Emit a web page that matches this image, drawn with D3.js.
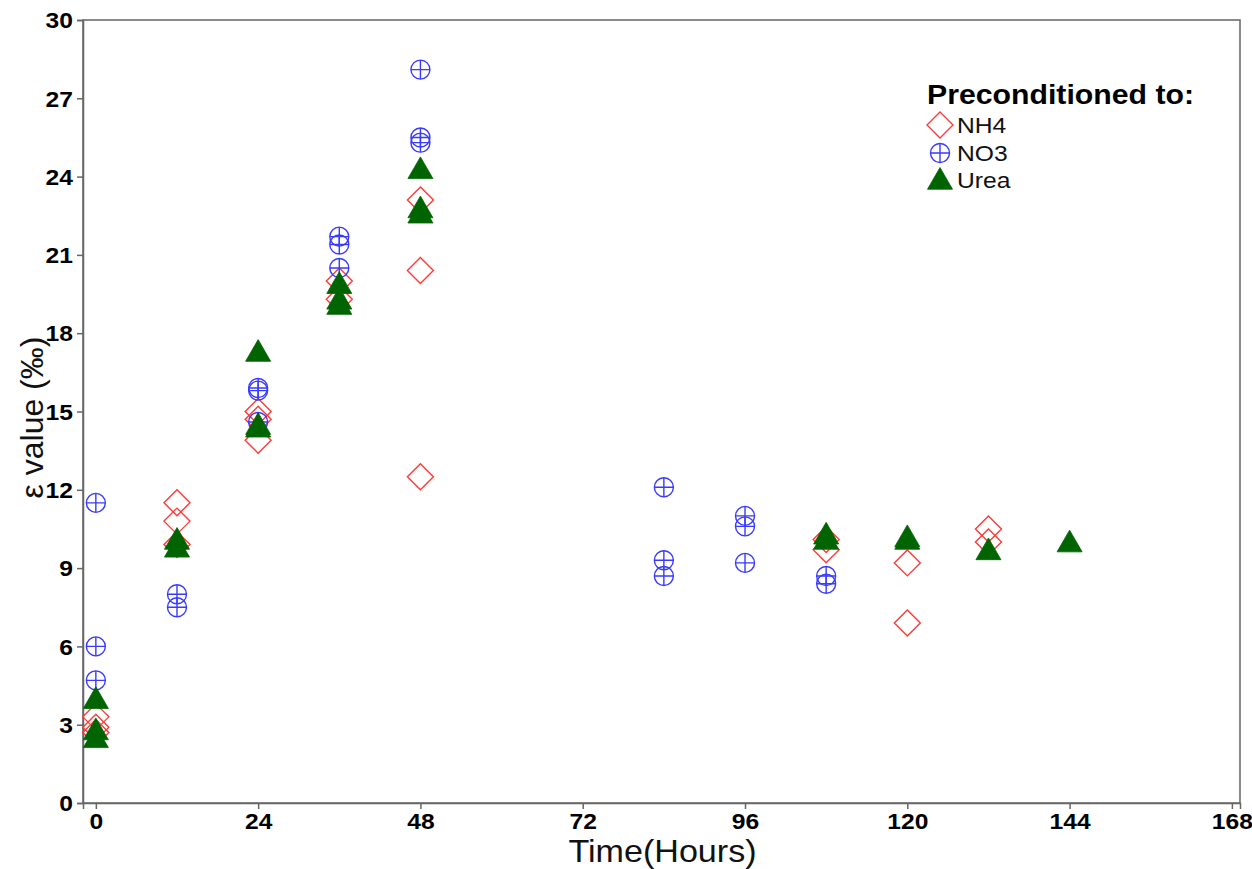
<!DOCTYPE html>
<html>
<head>
<meta charset="utf-8">
<script src="https://cdn.jsdelivr.net/npm/d3@7"></script>
<style>
  html, body { margin: 0; padding: 0; background: #fff; }
  text { font-family: "Liberation Sans", Arial, sans-serif; }
</style>
</head>
<body>
<svg id="chart" width="1252" height="869"></svg>
<script>
// ---- data ----
const xTicks = [0, 24, 48, 72, 96, 120, 144, 168];
const yTicks = [0, 3, 6, 9, 12, 15, 18, 21, 24, 27, 30];
const seriesNames = ["NH4", "NO3", "Urea"];

const nh4Hours  = [0, 0, 0, 12, 12, 12, 24, 24, 24, 36, 36, 48, 48, 48, 108, 108, 120, 120, 132, 132];
const nh4Values = [3.3, 2.9, 2.7, 11.5, 10.8, 9.9, 15.0, 14.7, 13.9, 20.0, 19.3, 23.1, 20.4, 12.5, 10.1, 9.7, 9.2, 6.9, 10.5, 10.0];

const no3Hours  = [0, 0, 0, 12, 12, 24, 24, 24, 36, 36, 36, 48, 48, 48, 84, 84, 84, 96, 96, 96, 108, 108];
const no3Values = [11.5, 6.0, 4.7, 8.0, 7.5, 15.9, 15.8, 14.6, 21.7, 21.4, 20.5, 28.1, 25.5, 25.3, 12.1, 9.3, 8.7, 11.0, 10.6, 9.2, 8.7, 8.4];

const ureaHours  = [0, 0, 0, 12, 12, 24, 24, 24, 36, 36, 36, 48, 48, 48, 108, 108, 120, 120, 132, 144];
const ureaValues = [3.9, 2.7, 2.4, 10.0, 9.7, 17.2, 14.4, 14.3, 19.8, 19.2, 19.0, 24.2, 22.7, 22.5, 10.2, 10.0, 10.1, 10.0, 9.6, 9.9];

// ---- layout ----
const svg = d3.select("#chart");
const L = 83, R = 1240, T = 20, B = 803;
const x = d3.scaleLinear().domain([-1.9, 169.2]).range([L, R]);
const y = d3.scaleLinear().domain([0, 30]).range([B, T]);
const axisColor = "#666";
const red = "#FF3A3A", blue = "#3A3AFF", green = "#006400";
const SX = 1.12; // horizontal text stretch of the reference

// frame
svg.append("rect").attr("x", L).attr("y", T).attr("width", R - L).attr("height", B - T)
  .attr("fill", "none").attr("stroke", axisColor).attr("stroke-width", 1.5);

// axes
const xAxis = svg.append("g").attr("transform", `translate(0,${B})`)
  .call(d3.axisBottom(x).tickValues(xTicks).tickSize(6).tickPadding(4).tickFormat(d3.format("d")));
const yAxis = svg.append("g").attr("transform", `translate(${L},0)`)
  .call(d3.axisLeft(y).tickValues(yTicks).tickSize(6).tickPadding(4).tickFormat(d3.format("d")));
[xAxis, yAxis].forEach(a => {
  a.select(".domain").attr("stroke", axisColor).attr("stroke-width", 1.5);
  a.selectAll(".tick line").attr("stroke", axisColor).attr("stroke-width", 1.5);
  a.selectAll(".tick text").attr("fill", "#000").attr("font-size", 22).attr("font-weight", "bold")
    .attr("font-family", "Liberation Sans, Arial, sans-serif");
});
xAxis.selectAll(".tick text").attr("transform", `scale(${SX},1)`)
  .attr("x", 0).attr("dy", "0.71em").attr("y", 10);
yAxis.selectAll(".tick text").attr("transform", `scale(${SX},1)`).attr("x", -10 / SX).attr("dy", "0.35em");

// axis titles
svg.append("text").attr("transform", `translate(${(L + R) / 2 + 1},${862}) scale(1.1,1)`)
  .attr("text-anchor", "middle").attr("font-size", 31).attr("fill", "#111").text("Time(Hours)");
svg.append("text").attr("transform", `translate(${43},${(T + B) / 2 + 6}) rotate(-90)`)
  .attr("text-anchor", "middle").attr("font-size", 32).attr("fill", "#111").text("ε value (‰)");

// ---- marker shapes ----
function diamond(g, cx, cy, s, color) {
  g.append("path").attr("d", `M${cx},${cy - s}L${cx + s},${cy}L${cx},${cy + s}L${cx - s},${cy}Z`)
    .attr("fill", "none").attr("stroke", color).attr("stroke-width", 1.4);
}
function circlePlus(g, cx, cy, r, color) {
  g.append("circle").attr("cx", cx).attr("cy", cy).attr("r", r)
    .attr("fill", "none").attr("stroke", color).attr("stroke-width", 1.4);
  g.append("path").attr("d", `M${cx - r},${cy}H${cx + r}M${cx},${cy - r}V${cy + r}`)
    .attr("stroke", color).attr("stroke-width", 1.4);
}
function triangle(g, cx, cy, u, color) {
  const r = 1.555 * u, xc = 1.347 * u, yc = 0.778 * u;
  g.append("path").attr("d", `M${cx},${cy - r}L${cx + xc},${cy + yc}L${cx - xc},${cy + yc}Z`)
    .attr("fill", color).attr("stroke", color).attr("stroke-width", 0.8);
}

const pts = svg.append("g");
nh4Hours.forEach((h, i) => diamond(pts, x(h), y(nh4Values[i]), 13, red));
no3Hours.forEach((h, i) => circlePlus(pts, x(h), y(no3Values[i]), 9.5, blue));
ureaHours.forEach((h, i) => triangle(pts, x(h), y(ureaValues[i]), 9.3, green));

// ---- legend ----
const lg = svg.append("g");
lg.append("text").attr("transform", `translate(927,104) scale(${SX},1)`)
  .attr("font-size", 27).attr("font-weight", "bold").attr("fill", "#000").text("Preconditioned to:");
const legY = [125, 153, 180];
diamond(lg, 940, legY[0], 13, red);
circlePlus(lg, 940, legY[1], 9.5, blue);
triangle(lg, 940, legY[2] + 2, 9.3, green);
seriesNames.forEach((n, i) => {
  lg.append("text").attr("transform", `translate(957,${legY[i] + 8}) scale(${SX},1)`)
    .attr("font-size", 22).attr("fill", "#111").text(n);
});
</script>
</body>
</html>
